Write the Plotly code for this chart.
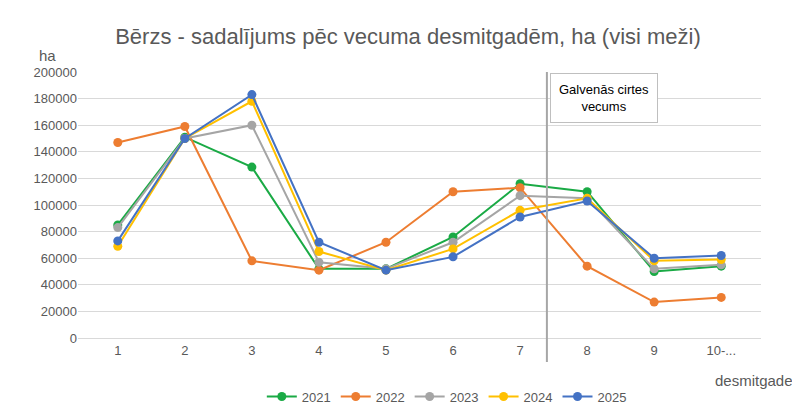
import plotly.graph_objects as go

categories = ["1", "2", "3", "4", "5", "6", "7", "8", "9", "10-..."]
v2021 = [85000, 151000, 128500, 52000, 52000, 76000, 116000, 110000, 50000, 54000]
v2022 = [147000, 159000, 58000, 51000, 72000, 110000, 113000, 54000, 27000, 30500]
v2023 = [83000, 150000, 160000, 57000, 52000, 72000, 107000, 105000, 52000, 55000]
v2024 = [69000, 150000, 178000, 65000, 51000, 67000, 96000, 105000, 58000, 59000]
v2025 = [73000, 150000, 183000, 72000, 51000, 61000, 91000, 103000, 60000, 62000]

series = [
    ("2021", v2021, "#1aaa45"),
    ("2022", v2022, "#ed7d31"),
    ("2023", v2023, "#a5a5a5"),
    ("2024", v2024, "#ffc000"),
    ("2025", v2025, "#4472c4"),
]

fig = go.Figure()
for name, vals, col in series:
    fig.add_trace(go.Scatter(
        x=categories, y=vals, name=name, mode="lines+markers",
        line=dict(color=col, width=2),
        marker=dict(size=9, color=col),
    ))

# vertical marker between 7 and 8
fig.add_shape(type="line", xref="x", yref="paper", x0=6.4, x1=6.4, y0=-0.09, y1=1.0,
              line=dict(color="#a6a6a6", width=2))
fig.add_annotation(xref="paper", yref="paper", x=0.77, y=0.995, xanchor="center", yanchor="top",
                   text="Galvenās cirtes<br>vecums", showarrow=False,
                   font=dict(size=13, color="#000000"),
                   bgcolor="white", bordercolor="#bfbfbf", borderwidth=1, borderpad=8)
fig.add_annotation(xref="paper", yref="paper", x=-0.06, y=1.1, text="ha", showarrow=False,
                   font=dict(size=15, color="#595959"))
fig.add_annotation(xref="paper", yref="paper", x=1.05, y=-0.2, xanchor="right", text="desmitgade",
                   showarrow=False, font=dict(size=15, color="#595959"))

fig.update_layout(
    width=800, height=411,
    title=dict(text="Bērzs - sadalījums pēc vecuma desmitgadēm, ha (visi meži)",
               x=0.5, y=0.95, font=dict(size=22, color="#595959")),
    font=dict(family="Liberation Sans, Noto Sans", size=13, color="#595959"),
    plot_bgcolor="white", paper_bgcolor="white",
    margin=dict(l=70, r=47, t=64, b=81, autoexpand=False),
    legend=dict(orientation="h", x=0.54, xanchor="center", y=-0.22, yanchor="middle",
                font=dict(size=13, color="#595959")),
    xaxis=dict(showgrid=False, showline=True, linecolor="#d9d9d9", ticks=""),
    yaxis=dict(range=[0, 200000], dtick=20000, gridcolor="#d9d9d9", zeroline=False,
               tickformat="d"),
)
fig.write_html("out.html")
